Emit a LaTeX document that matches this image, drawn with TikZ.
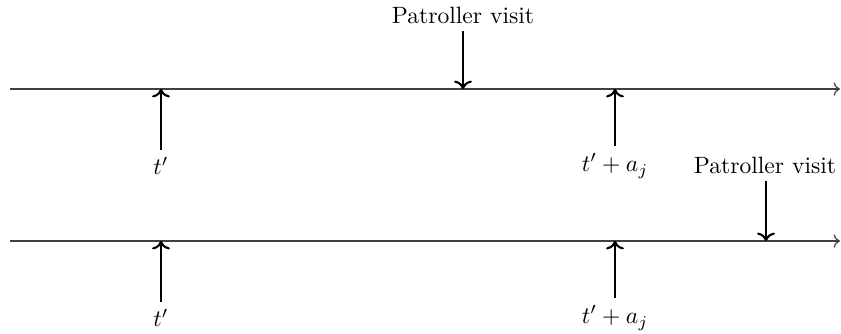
\documentclass[tikz,border=0pt]{standalone}
\usetikzlibrary{arrows.meta}
\begin{document}
\begin{tikzpicture}[x=0.4237pt,y=-0.4237pt,
  axisline/.style={->, line width=0.5pt, black!75},
  marker/.style={->, line width=0.9pt},
  lbl/.style={inner sep=3pt}]
\useasboundingbox (0,0) rectangle (841,333);
% timeline 1
\coordinate (a1s) at (10,89);
\coordinate (a1e) at (840,89);
\draw[axisline] (a1s) -- (a1e);
\coordinate (p1) at (161,89);
\coordinate (q1) at (615,89);
\coordinate (v1) at (463,89);
\node[lbl] (t1) at (161,166) {$t'$};
\node[lbl] (ta1) at (615,166) {$t'+a_j$};
\node[lbl] (pv1) at (463,15) {Patroller visit};
\draw[marker] (t1.north) -- (p1);
\draw[marker] (ta1.north) -- (q1);
\draw[marker] (pv1.south) -- (v1);
% timeline 2
\coordinate (a2s) at (10,241);
\coordinate (a2e) at (840,241);
\draw[axisline] (a2s) -- (a2e);
\coordinate (p2) at (161,241);
\coordinate (q2) at (615,241);
\coordinate (v2) at (766,241);
\node[lbl] (t2) at (161,318) {$t'$};
\node[lbl] (ta2) at (615,318) {$t'+a_j$};
\node[lbl] (pv2) at (765,165) {Patroller visit};
\draw[marker] (t2.north) -- (p2);
\draw[marker] (ta2.north) -- (q2);
\draw[marker] (pv2.south -| v2) -- (v2);
\end{tikzpicture}
\end{document}
